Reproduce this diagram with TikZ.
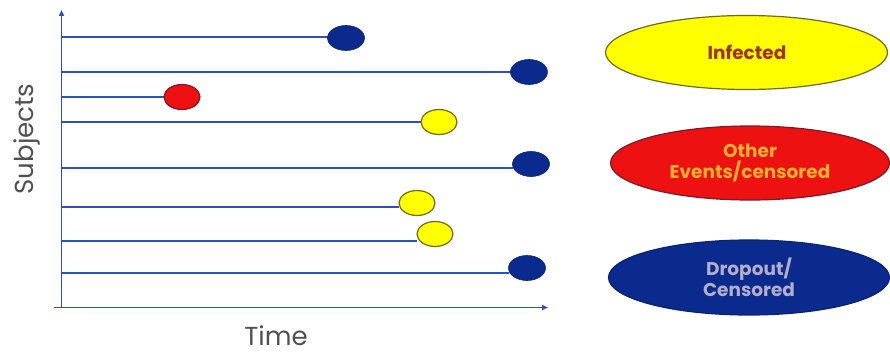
\documentclass[tikz,border=0pt]{standalone}
\usepackage{fontspec}
\setmainfont{Poppins}
\usetikzlibrary{arrows.meta}
\definecolor{axisblue}{HTML}{2E4FC4}
\definecolor{dotblue}{HTML}{0B2A8E}
\definecolor{dotblueedge}{HTML}{0A2270}
\definecolor{dotyellow}{HTML}{FFFF00}
\definecolor{yellowedge}{HTML}{6E6A1E}
\definecolor{dotred}{HTML}{EE1111}
\definecolor{rededge}{HTML}{7A1A2A}
\definecolor{txtbrown}{HTML}{A0321E}
\definecolor{txtorange}{HTML}{F5B030}
\definecolor{txtlav}{HTML}{B4AECB}
\definecolor{labelgray}{HTML}{505050}
\tikzset{
  axisline/.style={draw=axisblue, line width=1.6pt},
  subjline/.style={draw=axisblue, line width=1.4pt},
  bluedot/.style={fill=dotblue, draw=dotblueedge, line width=0.6pt},
  yellowdot/.style={fill=dotyellow, draw=yellowedge, line width=1.2pt},
  reddot/.style={fill=dotred, draw=rededge, line width=1.2pt},
  legendtext/.style={font=\bfseries\fontsize{18.5}{20.5}\selectfont, align=center},
  axislabel/.style={text=labelgray, font=\fontsize{26}{28}\selectfont, inner sep=0pt},
}
\begin{document}
\begin{tikzpicture}[x=1pt,y=-1pt]
\useasboundingbox (0,0) rectangle (890,353);
% axes
\coordinate (ybot) at (61.5,308);
\coordinate (ytop) at (61.5,10);
\coordinate (xleft) at (54,307.5);
\coordinate (xright) at (548,307.5);
\draw[axisline, -{Triangle[length=6pt,width=5pt]}] (ybot) -- (ytop);
\draw[axisline, -{Triangle[length=6pt,width=5pt]}] (xleft) -- (xright);
\node[axislabel, anchor=base] (tlabel) at (276,345) {Time};
\node[axislabel, rotate=90] (slabel) at (27,139) {Subjects};
% subject lines
\foreach \n/\y in {1/37,2/72,3/97,4/122,5/168,6/207,7/241,8/273}{
  \coordinate (s\n) at (61.5,\y);
}
% dots
\coordinate (d1) at (346,38);
\coordinate (d2) at (529,72);
\coordinate (d3) at (182,97);
\coordinate (d4) at (439,122);
\coordinate (d5) at (531,164);
\coordinate (d6) at (417,203);
\coordinate (d7) at (435,234);
\coordinate (d8) at (527,268);
\draw[subjline] (s1) -- (328,37);
\draw[subjline] (s2) -- (511,72);
\draw[subjline] (s3) -- (164,97);
\draw[subjline] (s4) -- (421,122);
\draw[subjline] (s5) -- (513,168);
\draw[subjline] (s6) -- (399,207);
\draw[subjline] (s7) -- (417,241);
\draw[subjline] (s8) -- (509,273);
\path[bluedot] (d1) ellipse [x radius=18.5, y radius=12.5];
\path[bluedot] (d2) ellipse [x radius=18.5, y radius=12.5];
\path[reddot] (d3) ellipse [x radius=18, y radius=12.5];
\path[yellowdot] (d4) ellipse [x radius=18, y radius=12.5];
\path[bluedot] (d5) ellipse [x radius=18.5, y radius=12.5];
\path[yellowdot] (d6) ellipse [x radius=18, y radius=12.5];
\path[yellowdot] (d7) ellipse [x radius=18, y radius=12.5];
\path[bluedot] (d8) ellipse [x radius=18.5, y radius=12.5];
% legend
\path[fill=dotyellow, draw=yellowedge, line width=1.2pt] (746.5,52.5) ellipse [x radius=141, y radius=37];
\node[legendtext, text=txtbrown] (linf) at (747,52) {Infected};
\path[fill=dotred, draw=rededge, line width=1.2pt] (750,163) ellipse [x radius=139.5, y radius=37];
\node[legendtext, text=txtorange] (loth) at (750,163) {Other\\Events/censored};
\path[fill=dotblue, draw=dotblueedge, line width=1.2pt] (749,277.5) ellipse [x radius=140.5, y radius=37.5];
\node[legendtext, text=txtlav] (ldrop) at (749,277.5) {Dropout/\\Censored};
\end{tikzpicture}
\end{document}
